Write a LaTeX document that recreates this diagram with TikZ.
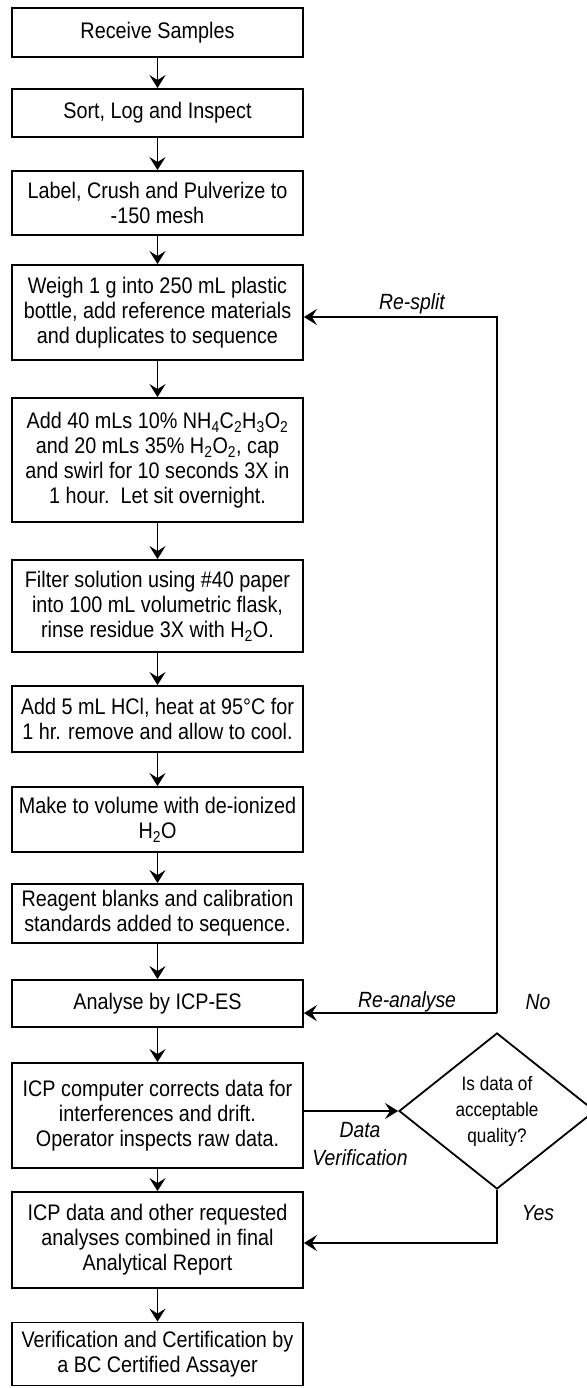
\documentclass[tikz,border=0pt]{standalone}
\usepackage{fontspec}
\setmainfont{Liberation Sans}[FakeStretch=0.88]
\usetikzlibrary{arrows.meta,shapes.geometric}
\begin{document}
\begin{tikzpicture}[x=1pt,y=-1pt,
  box/.style={draw, line width=1.8pt, minimum width=291pt, inner xsep=2pt, inner ysep=0pt, align=center, font=\fontsize{22.5}{25}\selectfont},
  arr/.style={-{Stealth[length=13pt,width=16pt,inset=5pt]}, line width=1.8pt},
  lbl/.style={font=\fontsize{22}{28}\selectfont\itshape, inner sep=0pt},
  decision/.style={diamond, draw, line width=1.8pt, minimum width=196pt, minimum height=156pt, inner sep=0pt, aspect=1.256, align=center, font=\fontsize{19.5}{26}\selectfont}]
\path[use as bounding box] (0,0) rectangle (586,1388);

\node[box, minimum height=49pt] (b1) at (157.5,32.5) {Receive Samples};
\node[box, minimum height=48pt] (b2) at (157.5,113) {Sort, Log and Inspect};
\node[box, minimum height=64pt] (b3) at (157.5,203) {Label, Crush and Pulverize to\\-150 mesh};
\node[box, minimum height=95pt] (b4) at (157.5,312.5) {Weigh 1 g into 250 mL plastic\\bottle, add reference materials\\and duplicates to sequence};
\node[box, minimum height=124pt] (b5) at (157.5,460) {Add 40 mLs 10\% NH\textsubscript{4}C\textsubscript{2}H\textsubscript{3}O\textsubscript{2}\\and 20 mLs 35\% H\textsubscript{2}O\textsubscript{2}, cap\\and swirl for 10 seconds 3X in\\1 hour.\ \ Let sit overnight.};
\node[box, minimum height=92pt] (b6) at (157.5,606) {Filter solution using \#40 paper\\into 100 mL volumetric flask,\\rinse residue 3X with H\textsubscript{2}O.};
\node[box, minimum height=66pt] (b7) at (157.5,719) {Add 5 mL HCl, heat at 95°C for\\1 hr. remove and allow to cool.};
\node[box, minimum height=65pt] (b8) at (157.5,819.5) {Make to volume with de-ionized\\H\textsubscript{2}O};
\node[box, minimum height=59pt] (b9) at (157.5,913.5) {Reagent blanks and calibration\\standards added to sequence.};
\node[box, minimum height=47pt] (b10) at (157.5,1003.5) {Analyse by ICP-ES};
\node[box, minimum height=105pt] (b11) at (157.5,1115.5) {ICP computer corrects data for\\interferences and drift.\\Operator inspects raw data.};
\node[box, minimum height=96pt] (b12) at (157.5,1240) {ICP data and other requested\\analyses combined in final\\Analytical Report};
\node[box, minimum height=63pt] (b13) at (157.5,1354) {Verification and Certification by\\a BC Certified Assayer};

\node[decision] (dia) at (497,1111) {Is data of\\acceptable\\quality?};

\draw[arr] (b1) -- (b2);
\draw[arr] (b2) -- (b3);
\draw[arr] (b3) -- (b4);
\draw[arr] (b4) -- (b5);
\draw[arr] (b5) -- (b6);
\draw[arr] (b6) -- (b7);
\draw[arr] (b7) -- (b8);
\draw[arr] (b8) -- (b9);
\draw[arr] (b9) -- (b10);
\draw[arr] (b10) -- (b11);
\draw[arr] (b11) -- (b12);
\draw[arr] (b12) -- (b13);

\coordinate (nobr) at ([yshift=19pt]dia.north);
\coordinate (splittop) at (497,317);
\draw[arr] (nobr) -- (splittop) -- (b4.east |- splittop);
\draw[arr] (nobr) -- (b10.east |- nobr);
\draw[arr] (b11.east |- dia.west) -- (dia.west);
\draw[arr] (dia.south) |- ([yshift=-3pt]b12.east);

\node[lbl] (resplit) at (412,304) {Re-split};
\node[lbl] (reanalyse) at (407,1002) {Re-analyse};
\node[lbl] (nolbl) at (538,1002) {No};
\node[lbl, align=center] (dv) at (360,1144) {Data\\Verification};
\node[lbl] (yeslbl) at (538,1213) {Yes};
\end{tikzpicture}
\end{document}
